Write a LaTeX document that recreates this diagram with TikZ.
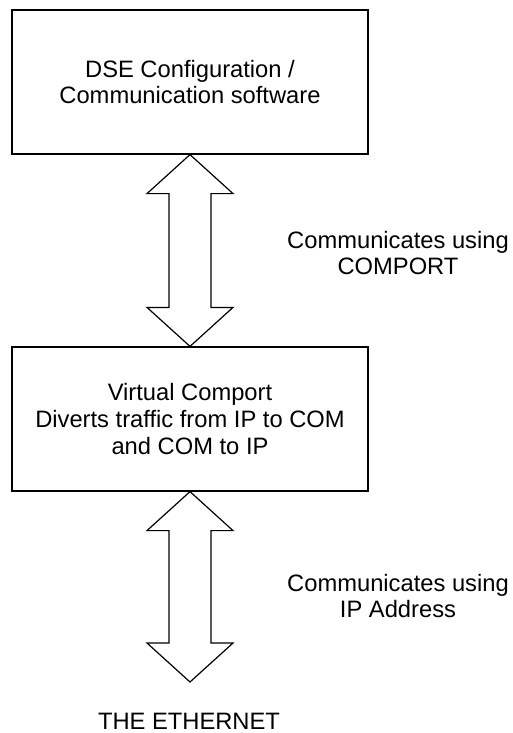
\documentclass[tikz,border=0pt]{standalone}
\usepackage{fontspec}
\setmainfont{Liberation Sans}
\usepackage{tikz}
\usetikzlibrary{calc}

% two-headed block arrow from tip #1 (top) to tip #2 (bottom)
\newcommand{\twoway}[2]{%
\draw[blockarrow] (#1) -- ++(43,39) -- ++(-22,0) -- ($(#2)+(21,-39)$) -- ++(22,0) -- (#2)
  -- ++(-43,-39) -- ++(22,0) -- ($(#1)+(-21,39)$) -- ++(-22,0) -- cycle;}

\begin{document}
\begin{tikzpicture}
[
x=0.75pt, y=-0.75pt,
every node/.style={font=\fontsize{17.8}{20.2}\selectfont, align=center},
box/.style={rectangle, draw=black, line width=0.9pt, minimum width=267pt, minimum height=108pt, inner sep=0},
note/.style={inner sep=0},
blockarrow/.style={draw=black, line width=0.9pt, line join=miter}
]
\useasboundingbox (0,0) rectangle (512,733);
%Nodes
\node[box]    (dse)                 at (190,82)   {DSE Configuration /\\Communication software};
\node[box]    (vcom)                at (190,419)  {Virtual Comport\\Diverts traffic from IP to COM\\and COM to IP};
\node[note]   (comport)             at (398,253)  {Communicates using\\COMPORT};
\node[note]   (ipaddr)              at (398,596)  {Communicates using\\IP Address};
\coordinate   (nettip)              at (190,682);
\node[note, anchor=base] (ethernet) at (189,729)  {THE ETHERNET};

%Lines
\twoway{dse.south}{vcom.north}
\twoway{vcom.south}{nettip}
\end{tikzpicture}
\end{document}
